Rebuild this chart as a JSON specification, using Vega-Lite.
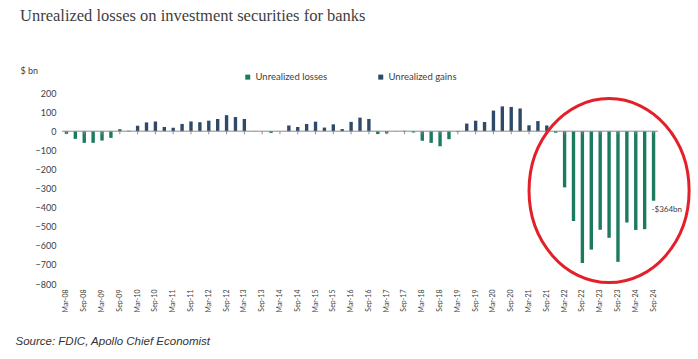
{
  "$schema": "https://vega.github.io/schema/vega-lite/v6.json",
  "width": 596,
  "height": 191,
  "autosize": "none",
  "padding": {"left": 62, "top": 93, "right": 40, "bottom": 75},
  "background": "white",
  "title": {
    "text": "Unrealized losses on investment securities for banks",
    "anchor": "start", "frame": "group", "dx": -42, "offset": 29,
    "baseline": "alphabetic", "font": "Liberation Serif", "fontSize": 16.5,
    "fontWeight": "normal", "color": "#404040"
  },
  "config": {
    "view": {"stroke": null},
    "axis": {"labelFont": "Lato", "titleFont": "Lato", "labelColor": "#404040", "titleColor": "#404040", "grid": false, "domain": false, "ticks": false, "labelOverlap": false},
    "axisY": {"tickCount": 11, "labelOverlap": false, "labelFontSize": 9, "labelPadding": 6}
  },
  "datasets": {
    "bars": [
      {"quarter": "Mar-08", "value": -14, "series": "Unrealized losses"},
      {"quarter": "Jun-08", "value": -40, "series": "Unrealized losses"},
      {"quarter": "Sep-08", "value": -61, "series": "Unrealized losses"},
      {"quarter": "Dec-08", "value": -61, "series": "Unrealized losses"},
      {"quarter": "Mar-09", "value": -49, "series": "Unrealized losses"},
      {"quarter": "Jun-09", "value": -35, "series": "Unrealized losses"},
      {"quarter": "Sep-09", "value": 10, "series": "Unrealized gains"},
      {"quarter": "Dec-09", "value": 3, "series": "Unrealized gains"},
      {"quarter": "Mar-10", "value": 28, "series": "Unrealized gains"},
      {"quarter": "Jun-10", "value": 46, "series": "Unrealized gains"},
      {"quarter": "Sep-10", "value": 51, "series": "Unrealized gains"},
      {"quarter": "Dec-10", "value": 22, "series": "Unrealized gains"},
      {"quarter": "Mar-11", "value": 18, "series": "Unrealized gains"},
      {"quarter": "Jun-11", "value": 38, "series": "Unrealized gains"},
      {"quarter": "Sep-11", "value": 51, "series": "Unrealized gains"},
      {"quarter": "Dec-11", "value": 47, "series": "Unrealized gains"},
      {"quarter": "Mar-12", "value": 55, "series": "Unrealized gains"},
      {"quarter": "Jun-12", "value": 64, "series": "Unrealized gains"},
      {"quarter": "Sep-12", "value": 84, "series": "Unrealized gains"},
      {"quarter": "Dec-12", "value": 74, "series": "Unrealized gains"},
      {"quarter": "Mar-13", "value": 64, "series": "Unrealized gains"},
      {"quarter": "Jun-13", "value": 1, "series": "Unrealized gains"},
      {"quarter": "Sep-13", "value": 0, "series": "Unrealized gains"},
      {"quarter": "Dec-13", "value": -9, "series": "Unrealized losses"},
      {"quarter": "Mar-14", "value": 0, "series": "Unrealized gains"},
      {"quarter": "Jun-14", "value": 30, "series": "Unrealized gains"},
      {"quarter": "Sep-14", "value": 22, "series": "Unrealized gains"},
      {"quarter": "Dec-14", "value": 38, "series": "Unrealized gains"},
      {"quarter": "Mar-15", "value": 50, "series": "Unrealized gains"},
      {"quarter": "Jun-15", "value": 19, "series": "Unrealized gains"},
      {"quarter": "Sep-15", "value": 36, "series": "Unrealized gains"},
      {"quarter": "Dec-15", "value": 11, "series": "Unrealized gains"},
      {"quarter": "Mar-16", "value": 49, "series": "Unrealized gains"},
      {"quarter": "Jun-16", "value": 71, "series": "Unrealized gains"},
      {"quarter": "Sep-16", "value": 64, "series": "Unrealized gains"},
      {"quarter": "Dec-16", "value": -15, "series": "Unrealized losses"},
      {"quarter": "Mar-17", "value": -12, "series": "Unrealized losses"},
      {"quarter": "Jun-17", "value": 1, "series": "Unrealized gains"},
      {"quarter": "Sep-17", "value": 2, "series": "Unrealized gains"},
      {"quarter": "Dec-17", "value": -7, "series": "Unrealized losses"},
      {"quarter": "Mar-18", "value": -50, "series": "Unrealized losses"},
      {"quarter": "Jun-18", "value": -61, "series": "Unrealized losses"},
      {"quarter": "Sep-18", "value": -79, "series": "Unrealized losses"},
      {"quarter": "Dec-18", "value": -42, "series": "Unrealized losses"},
      {"quarter": "Mar-19", "value": -4, "series": "Unrealized losses"},
      {"quarter": "Jun-19", "value": 40, "series": "Unrealized gains"},
      {"quarter": "Sep-19", "value": 55, "series": "Unrealized gains"},
      {"quarter": "Dec-19", "value": 48, "series": "Unrealized gains"},
      {"quarter": "Mar-20", "value": 108, "series": "Unrealized gains"},
      {"quarter": "Jun-20", "value": 130, "series": "Unrealized gains"},
      {"quarter": "Sep-20", "value": 127, "series": "Unrealized gains"},
      {"quarter": "Dec-20", "value": 119, "series": "Unrealized gains"},
      {"quarter": "Mar-21", "value": 31, "series": "Unrealized gains"},
      {"quarter": "Jun-21", "value": 53, "series": "Unrealized gains"},
      {"quarter": "Sep-21", "value": 30, "series": "Unrealized gains"},
      {"quarter": "Dec-21", "value": -8, "series": "Unrealized losses"},
      {"quarter": "Mar-22", "value": -294, "series": "Unrealized losses"},
      {"quarter": "Jun-22", "value": -470, "series": "Unrealized losses"},
      {"quarter": "Sep-22", "value": -690, "series": "Unrealized losses"},
      {"quarter": "Dec-22", "value": -620, "series": "Unrealized losses"},
      {"quarter": "Mar-23", "value": -516, "series": "Unrealized losses"},
      {"quarter": "Jun-23", "value": -558, "series": "Unrealized losses"},
      {"quarter": "Sep-23", "value": -684, "series": "Unrealized losses"},
      {"quarter": "Dec-23", "value": -478, "series": "Unrealized losses"},
      {"quarter": "Mar-24", "value": -517, "series": "Unrealized losses"},
      {"quarter": "Jun-24", "value": -513, "series": "Unrealized losses"},
      {"quarter": "Sep-24", "value": -364, "series": "Unrealized losses"}
    ],
    "note": [{"quarter": "Jun-23", "value": -311}],
    "last": [{"quarter": "Sep-24", "value": -364, "label": "-$364bn"}]
  },
  "layer": [
    {
      "data": {"name": "bars"},
      "mark": {"type": "bar"},
      "encoding": {
        "x": {
          "field": "quarter", "type": "ordinal",
          "scale": {
            "domain": ["Mar-08","Jun-08","Sep-08","Dec-08","Mar-09","Jun-09","Sep-09","Dec-09","Mar-10","Jun-10","Sep-10","Dec-10","Mar-11","Jun-11","Sep-11","Dec-11","Mar-12","Jun-12","Sep-12","Dec-12","Mar-13","Jun-13","Sep-13","Dec-13","Mar-14","Jun-14","Sep-14","Dec-14","Mar-15","Jun-15","Sep-15","Dec-15","Mar-16","Jun-16","Sep-16","Dec-16","Mar-17","Jun-17","Sep-17","Dec-17","Mar-18","Jun-18","Sep-18","Dec-18","Mar-19","Jun-19","Sep-19","Dec-19","Mar-20","Jun-20","Sep-20","Dec-20","Mar-21","Jun-21","Sep-21","Dec-21","Mar-22","Jun-22","Sep-22","Dec-22","Mar-23","Jun-23","Sep-23","Dec-23","Mar-24","Jun-24","Sep-24"],
            "paddingInner": 0.62, "paddingOuter": 0.31
          },
          "axis": {
            "values": ["Mar-08","Sep-08","Mar-09","Sep-09","Mar-10","Sep-10","Mar-11","Sep-11","Mar-12","Sep-12","Mar-13","Sep-13","Mar-14","Sep-14","Mar-15","Sep-15","Mar-16","Sep-16","Mar-17","Sep-17","Mar-18","Sep-18","Mar-19","Sep-19","Mar-20","Sep-20","Mar-21","Sep-21","Mar-22","Sep-22","Mar-23","Sep-23","Mar-24","Sep-24"],
            "labelAngle": 270, "labelFontSize": 7, "labelPadding": 5,
            "title": "Source: FDIC, Apollo Chief Economist",
            "titleFont": "Liberation Sans", "titleFontStyle": "italic", "titleFontWeight": "normal",
            "titleFontSize": 11.5, "titleColor": "#333333",
            "titleX": -47, "titleY": 60, "titleAlign": "left", "titleAnchor": "start", "titleBaseline": "alphabetic"
          }
        },
        "y": {
          "field": "value", "type": "quantitative",
          "scale": {"domain": [-800, 200], "nice": false},
          "axis": {
            "values": [-800, -700, -600, -500, -400, -300, -200, -100, 0, 100, 200],
            "labelFontSize": 9, "labelPadding": 6, "labelOverlap": false, "labelFlush": false,
            "title": "$ bn", "titleAngle": 0, "titleX": -42, "titleY": -23,
            "titleAlign": "left", "titleBaseline": "middle", "titleFontSize": 9, "titleFontWeight": "normal"
          }
        },
        "color": {
          "field": "series", "type": "nominal",
          "scale": {"domain": ["Unrealized losses", "Unrealized gains"], "range": ["#1b7a60", "#2f4a68"]},
          "legend": {
            "title": null, "orient": "none", "legendX": 181, "legendY": -21,
            "direction": "horizontal", "symbolType": "square", "symbolSize": 25,
            "labelFont": "Lato", "labelFontSize": 9.5, "labelColor": "#404040",
            "columnPadding": 48, "labelOffset": 3, "padding": 0
          }
        }
      }
    },
    {
      "data": {"values": [{}]},
      "mark": {"type": "rule", "color": "#8c8c8c", "strokeWidth": 1},
      "encoding": {"y": {"datum": 0, "type": "quantitative"}}
    },
    {
      "data": {"name": "bars"},
      "mark": {"type": "rule", "color": "#8c8c8c", "strokeWidth": 1},
      "encoding": {
        "x": {"field": "quarter", "type": "ordinal"},
        "y": {"datum": 0, "type": "quantitative"},
        "y2": {"datum": -16},
        "opacity": {"condition": {"test": "indexof(datum.quarter, 'Mar') == 0 || indexof(datum.quarter, 'Sep') == 0", "value": 1}, "value": 0}
      }
    },
    {
      "data": {"name": "note"},
      "mark": {
        "type": "point",
        "shape": "M 0.87 0 C 0.87 0.5523 0.4805 1 0 1 C -0.4805 1 -0.87 0.5523 -0.87 0 C -0.87 -0.5523 -0.4805 -1 0 -1 C 0.4805 -1 0.87 -0.5523 0.87 0 Z",
        "size": 33856, "filled": false, "stroke": "#e3202a", "strokeWidth": 3, "opacity": 1
      },
      "encoding": {
        "x": {"field": "quarter", "type": "ordinal"},
        "y": {"field": "value", "type": "quantitative"}
      }
    },
    {
      "data": {"name": "last"},
      "mark": {"type": "text", "align": "left", "baseline": "middle", "dx": -2, "dy": 9, "font": "Lato", "fontSize": 8, "color": "#404040"},
      "encoding": {
        "x": {"field": "quarter", "type": "ordinal"},
        "y": {"field": "value", "type": "quantitative"},
        "text": {"field": "label"}
      }
    }
  ]
}
